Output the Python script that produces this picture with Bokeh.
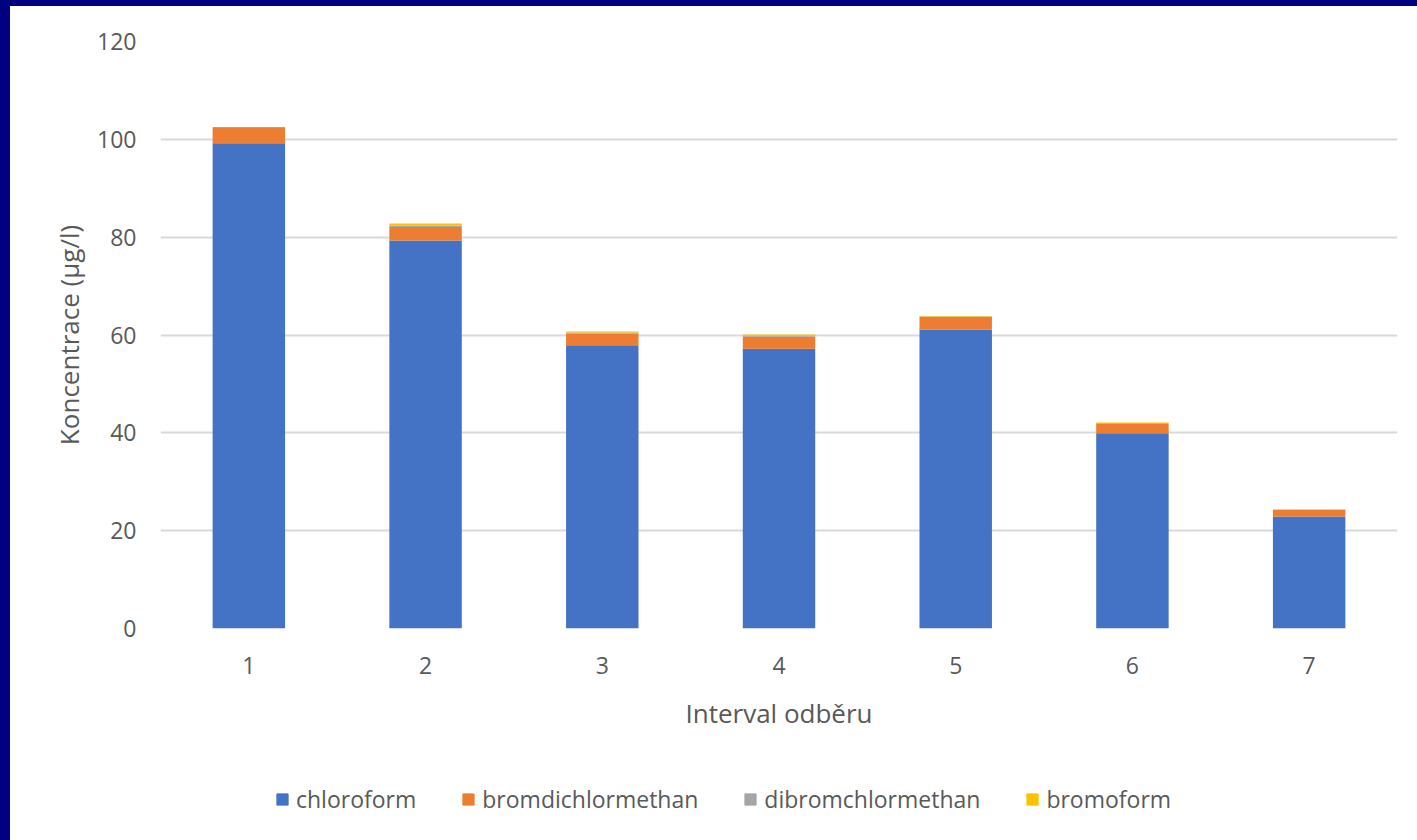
from bokeh.plotting import figure
from bokeh.models import ColumnDataSource, Legend, LegendItem, FixedTicker, Range1d
from bokeh.layouts import column
from bokeh.embed import file_html
from bokeh.resources import INLINE

intervals = ["1", "2", "3", "4", "5", "6", "7"]
chloroform = [99.2, 79.3, 57.9, 57.2, 61.1, 39.9, 22.9]
bromdichlormethan = [3.1, 2.8, 2.4, 2.5, 2.6, 2.0, 1.3]
dibromchlormethan = [0.2, 0.3, 0.2, 0.2, 0.1, 0.1, 0.1]
bromoform = [0.0, 0.4, 0.2, 0.2, 0.1, 0.1, 0.1]
series = ["chloroform", "bromdichlormethan", "dibromchlormethan", "bromoform"]
colors = ["#4472C4", "#ED7D31", "#A5A5A5", "#FFC000"]
y_ticks = [0, 20, 40, 60, 80, 100, 120]

src = ColumnDataSource(dict(x=intervals, chloroform=chloroform,
                            bromdichlormethan=bromdichlormethan,
                            dibromchlormethan=dibromchlormethan,
                            bromoform=bromoform))

FONT = "Open Sans"
GRAY = "#595959"
WHITE_BG = {"background-color": "white"}

# main chart
p = figure(x_range=intervals, y_range=(0, 120), width=1407, height=739,
           output_backend="svg", toolbar_location=None,
           min_border_left=150, min_border_right=20, min_border_top=35,
           min_border_bottom=117, background_fill_color="white",
           border_fill_color="white", styles=WHITE_BG)
p.outline_line_color = None
p.x_range.range_padding = 0

renderers = p.vbar_stack(series, x="x", width=0.41, color=colors, source=src,
                         line_color=None)

p.xgrid.grid_line_color = None
p.ygrid.grid_line_color = "#D9D9D9"
p.ygrid.grid_line_width = 2
p.yaxis.ticker = FixedTicker(ticks=y_ticks)

for ax in (p.xaxis[0], p.yaxis[0]):
    ax.axis_line_color = None
    ax.major_tick_line_color = None
    ax.minor_tick_line_color = None
    ax.major_label_text_font = FONT
    ax.major_label_text_font_size = "23px"
    ax.major_label_text_color = GRAY
    ax.axis_label_text_font = FONT
    ax.axis_label_text_font_size = "26px"
    ax.axis_label_text_color = GRAY
    ax.axis_label_text_font_style = "normal"

p.xaxis.axis_label = "Interval odběru"
p.yaxis.axis_label = "Koncentrace (µg/l)"
p.yaxis.major_label_standoff = 18
p.xaxis.major_label_standoff = 22
p.xaxis.axis_label_standoff = 18
p.yaxis.axis_label_standoff = 7

# legend strip below
lg = figure(width=1407, height=95, output_backend="svg", toolbar_location=None,
            x_range=Range1d(0, 1), y_range=Range1d(0, 1),
            min_border_left=150, min_border_right=20, min_border_top=0,
            min_border_bottom=0, border_fill_color="white",
            background_fill_color="white", styles=WHITE_BG)
lg.outline_line_color = None
lg.axis.visible = False
lg.grid.visible = False
dummy = ColumnDataSource(dict(x=[-10], top=[-10]))
items = []
for s, c in zip(series, colors):
    r = lg.vbar(x="x", top="top", bottom=-11, width=0.1, color=c, source=dummy)
    items.append(LegendItem(label=s, renderers=[r]))

legend = Legend(items=items, orientation="horizontal", location=(115, 25),
                label_text_font=FONT, label_text_font_size="23px",
                label_text_color=GRAY, glyph_width=14, glyph_height=14,
                label_standoff=7, spacing=45, padding=5, margin=0,
                border_line_color=None, background_fill_alpha=0)
lg.add_layout(legend, "center")

layout = column(p, lg, spacing=0, width=1417, height=840,
                styles={"background-color": "#000080",
                        "padding-top": "6px", "padding-left": "10px"})

open("out.html", "w").write(file_html(layout, INLINE))
